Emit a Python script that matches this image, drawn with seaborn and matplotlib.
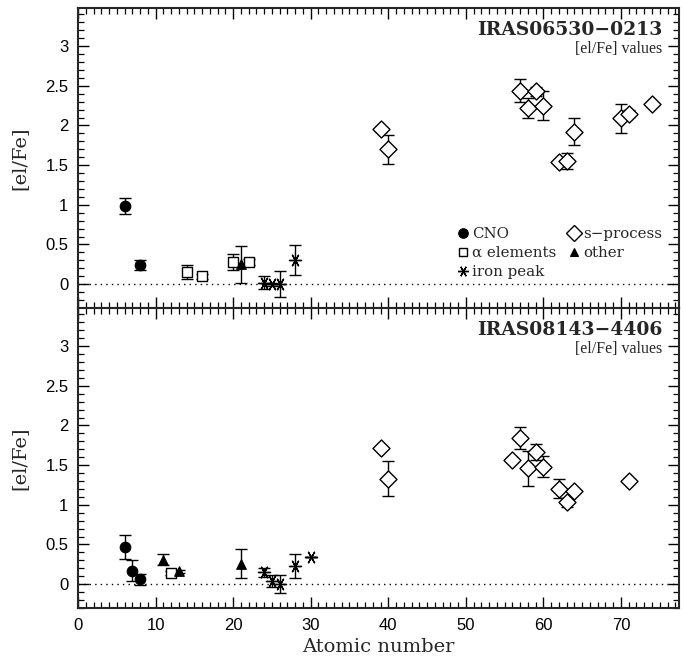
import numpy as np
import pandas as pd
import matplotlib
matplotlib.use("Agg")
import matplotlib.pyplot as plt
from matplotlib.ticker import MultipleLocator, FormatStrFormatter
from matplotlib.lines import Line2D
import seaborn as sns

# ---------------- data ----------------
# Top panel: IRAS06530-0213
top_cno_z = [6, 8]
top_cno_v = [0.98, 0.24]
top_cno_e = [0.10, 0.06]
top_alpha_z = [14, 16, 20, 22]
top_alpha_v = [0.15, 0.10, 0.28, 0.28]
top_alpha_e = [0.09, 0.03, 0.10, 0.04]
top_other_z = [21]
top_other_v = [0.25]
top_other_e = [0.23]
top_iron_z = [24, 25, 26, 28]
top_iron_v = [0.02, 0.00, 0.00, 0.30]
top_iron_e = [0.08, 0.02, 0.16, 0.19]
top_s_z = [39, 40, 57, 58, 59, 60, 62, 63, 64, 70, 71, 74]
top_s_v = [1.95, 1.70, 2.44, 2.22, 2.43, 2.25, 1.54, 1.55, 1.92, 2.09, 2.15, 2.27]
top_s_e = [0.03, 0.18, 0.14, 0.13, 0.06, 0.18, 0.02, 0.10, 0.17, 0.18, 0.04, 0.02]

# Bottom panel: IRAS08143-4406
bot_cno_z = [6, 7, 8]
bot_cno_v = [0.47, 0.17, 0.06]
bot_cno_e = [0.15, 0.13, 0.07]
bot_alpha_z = [12]
bot_alpha_v = [0.14]
bot_alpha_e = [0.03]
bot_other_z = [11, 13, 21]
bot_other_v = [0.31, 0.16, 0.26]
bot_other_e = [0.07, 0.02, 0.18]
bot_iron_z = [24, 25, 26, 28, 30]
bot_iron_v = [0.15, 0.04, 0.00, 0.23, 0.34]
bot_iron_e = [0.06, 0.07, 0.11, 0.15, 0.0]
bot_s_z = [39, 40, 56, 57, 58, 59, 60, 62, 63, 64, 71]
bot_s_v = [1.72, 1.33, 1.57, 1.84, 1.46, 1.66, 1.48, 1.20, 1.03, 1.18, 1.30]
bot_s_e = [0.02, 0.22, 0.03, 0.14, 0.22, 0.10, 0.13, 0.12, 0.06, 0.02, 0.02]

star_names = ["IRAS06530\u22120213", "IRAS08143\u22124406"]
group_labels = ["CNO", "\u03b1 elements", "iron peak", "s\u2212process", "other"]

# ---------------- style ----------------
sns.set_style("ticks")
plt.rcParams["font.family"] = ["Liberation Sans", "DejaVu Sans"]
plt.rcParams["axes.linewidth"] = 1.5

SERIF = ["DejaVu Serif"]
SERIF_NARROW = ["Liberation Serif", "DejaVu Serif"]

marker_style = {
    "CNO": dict(marker="o", s=58, facecolor="black", edgecolor="black", linewidth=0.8),
    "\u03b1 elements": dict(marker="s", s=42, facecolor="white", edgecolor="black", linewidth=1.0),
    "iron peak": dict(marker=(6, 2, 90), s=75, facecolor="black", edgecolor="black", linewidth=1.0),
    "s\u2212process": dict(marker="D", s=75, facecolor="white", edgecolor="black", linewidth=1.0),
    "other": dict(marker="^", s=48, facecolor="black", edgecolor="black", linewidth=0.8),
}


def build(z_lists, v_lists, e_lists):
    rows = []
    for lab, zs, vs, es in zip(group_labels, z_lists, v_lists, e_lists):
        for z, v, e in zip(zs, vs, es):
            rows.append(dict(group=lab, Z=z, val=v, err=e))
    return pd.DataFrame(rows)


df_top = build([top_cno_z, top_alpha_z, top_iron_z, top_s_z, top_other_z],
               [top_cno_v, top_alpha_v, top_iron_v, top_s_v, top_other_v],
               [top_cno_e, top_alpha_e, top_iron_e, top_s_e, top_other_e])
df_bot = build([bot_cno_z, bot_alpha_z, bot_iron_z, bot_s_z, bot_other_z],
               [bot_cno_v, bot_alpha_v, bot_iron_v, bot_s_v, bot_other_v],
               [bot_cno_e, bot_alpha_e, bot_iron_e, bot_s_e, bot_other_e])

fig = plt.figure(figsize=(6.86, 6.59), dpi=100)
gs = fig.add_gridspec(2, 1, left=0.1137, right=0.990, top=0.9879, bottom=0.0774, hspace=0)
ax_top = fig.add_subplot(gs[0])
ax_bot = fig.add_subplot(gs[1], sharex=ax_top)

for ax, df, name in [(ax_top, df_top, star_names[0]), (ax_bot, df_bot, star_names[1])]:
    ax.axhline(0, color="black", linestyle=(0, (1, 3)), linewidth=1.0, zorder=1)
    for lab in group_labels:
        sub = df[df["group"] == lab]
        if sub.empty:
            continue
        ax.errorbar(sub["Z"], sub["val"], yerr=sub["err"], fmt="none",
                    ecolor="black", elinewidth=1.0, capsize=4, capthick=1.0, zorder=2)
        st = marker_style[lab]
        sns.scatterplot(data=sub, x="Z", y="val", ax=ax, marker=st["marker"], s=st["s"],
                        color=st["facecolor"], edgecolor=st["edgecolor"],
                        linewidth=st["linewidth"], zorder=3, legend=False)
    ax.set_xlim(0, 77.5)
    ax.set_ylim(-0.3, 3.48)
    ax.xaxis.set_major_locator(MultipleLocator(10))
    ax.xaxis.set_minor_locator(MultipleLocator(1))
    ax.yaxis.set_major_locator(MultipleLocator(0.5))
    ax.yaxis.set_minor_locator(MultipleLocator(0.1))
    ax.yaxis.set_major_formatter(FormatStrFormatter("%g"))
    ax.tick_params(which="both", direction="in", top=True, right=True, colors="black")
    ax.tick_params(which="major", length=8, width=1.0, labelsize=12, pad=7)
    ax.tick_params(which="minor", length=4.5, width=0.9)
    ax.set_ylabel("[el/Fe]", family=SERIF, fontsize=14, labelpad=12)
    ax.set_xlabel("")
    ax.text(0.972, 0.928, name, transform=ax.transAxes, ha="right", va="center",
            family=SERIF, fontweight="bold", fontsize=13.5)
    ax.text(0.972, 0.862, "[el/Fe] values", transform=ax.transAxes, ha="right", va="center",
            family=SERIF_NARROW, fontsize=11.5)
    for sp in ax.spines.values():
        sp.set_linewidth(1.5)
        sp.set_visible(True)

ax_top.tick_params(axis="x", labelbottom=False)
ax_bot.set_xlabel("Atomic number", family=SERIF, fontsize=14, labelpad=4)

# legend in top panel
handles = []
for lab in group_labels:
    st = marker_style[lab]
    handles.append(Line2D([], [], linestyle="none", marker=st["marker"],
                          markersize=np.sqrt(st["s"]) * 0.9,
                          markerfacecolor=st["facecolor"], markeredgecolor=st["edgecolor"],
                          markeredgewidth=st["linewidth"], label=lab))
leg = ax_top.legend(handles=handles, ncol=2, loc="lower left", bbox_to_anchor=(0.615, 0.072),
                    frameon=False, prop={"family": SERIF, "size": 10.8},
                    handletextpad=0.1, columnspacing=0.7, labelspacing=0.33, borderpad=0,
                    handlelength=1.0)

fig.savefig("out.png", dpi=100)
